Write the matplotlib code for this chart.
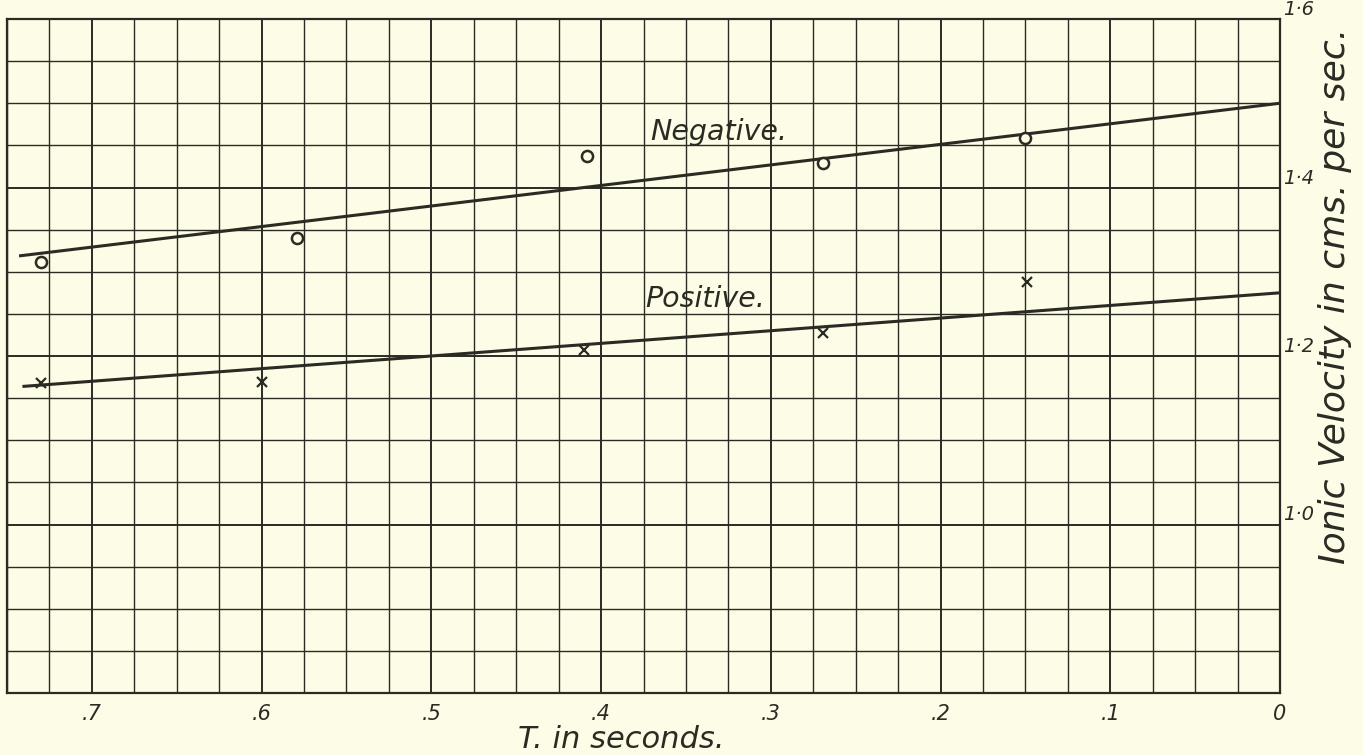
import matplotlib
matplotlib.use("Agg")
import matplotlib.pyplot as plt
from matplotlib.ticker import MultipleLocator

# ---- data ----
neg_t = [0.730, 0.579, 0.408, 0.269, 0.150]
neg_v = [1.312, 1.340, 1.437, 1.429, 1.459]
pos_t = [0.730, 0.600, 0.410, 0.269, 0.149]
pos_v = [1.168, 1.169, 1.207, 1.227, 1.288]

neg_line_t = [0.742, 0.0]
neg_line_v = [1.319, 1.500]
pos_line_t = [0.740, 0.0]
pos_line_v = [1.164, 1.275]

x_ticks = [0.7, 0.6, 0.5, 0.4, 0.3, 0.2, 0.1, 0.0]
x_tick_labels = [".7", ".6", ".5", ".4", ".3", ".2", ".1", "0"]
y_ticks = [1.0, 1.2, 1.4, 1.6]
y_tick_labels = ["1·0", "1·2", "1·4", "1·6"]

BG = "#FDFCE6"
INK = "#2b2b24"

fig = plt.figure(figsize=(13.63, 7.55), dpi=100, facecolor=BG)
ax = fig.add_axes([7 / 1363, (755 - 693) / 755, (1280 - 7) / 1363, (693 - 19) / 755])
ax.set_facecolor(BG)

ax.set_xlim(0.75, 0.0)
ax.set_ylim(0.8, 1.6)

ax.set_xticks(x_ticks)
ax.set_xticklabels(x_tick_labels)
ax.xaxis.set_minor_locator(MultipleLocator(0.025))
ax.set_yticks(y_ticks)
ax.set_yticklabels(y_tick_labels)
ax.yaxis.set_minor_locator(MultipleLocator(0.05))
ax.yaxis.tick_right()

ax.tick_params(which="both", length=0)
ax.tick_params(axis="x", pad=8, labelsize=15, labelcolor=INK)
ax.tick_params(axis="y", pad=2, labelsize=14, labelcolor=INK)
for lab in ax.get_xticklabels() + ax.get_yticklabels():
    lab.set_fontstyle("italic")
for lab in ax.get_yticklabels():
    lab.set_verticalalignment("bottom")

ax.grid(which="major", color=INK, linewidth=1.4)
ax.grid(which="minor", color=INK, linewidth=1.0)
ax.set_axisbelow(True)
for sp in ax.spines.values():
    sp.set_color(INK)
    sp.set_linewidth(1.6)

ax.plot(neg_line_t, neg_line_v, color=INK, linewidth=2.2, zorder=3)
ax.plot(pos_line_t, pos_line_v, color=INK, linewidth=2.2, zorder=3)
ax.plot(neg_t, neg_v, linestyle="none", marker="o", markersize=8,
        markerfacecolor=BG, markeredgecolor=INK, markeredgewidth=1.8, zorder=4)
ax.plot(pos_t, pos_v, linestyle="none", marker="x", markersize=7,
        color=INK, markeredgewidth=1.6, zorder=4)

ax.text(0.371, 1.456, "Negative.", fontsize=20.5, style="italic", color=INK,
        ha="left", va="baseline", zorder=5)
ax.text(0.374, 1.258, "Positive.", fontsize=20.5, style="italic", color=INK,
        ha="left", va="baseline", zorder=5)

fig.text(518 / 1363, (755 - 748) / 755, "T. in seconds.", fontsize=22,
         style="italic", color=INK, ha="left", va="baseline")
fig.text(1335 / 1363, (755 - 296) / 755, "Ionic Velocity in cms. per sec.",
         fontsize=26, style="italic", color=INK, rotation=90,
         ha="center", va="center")

fig.savefig("out.png", dpi=100, facecolor=BG)
